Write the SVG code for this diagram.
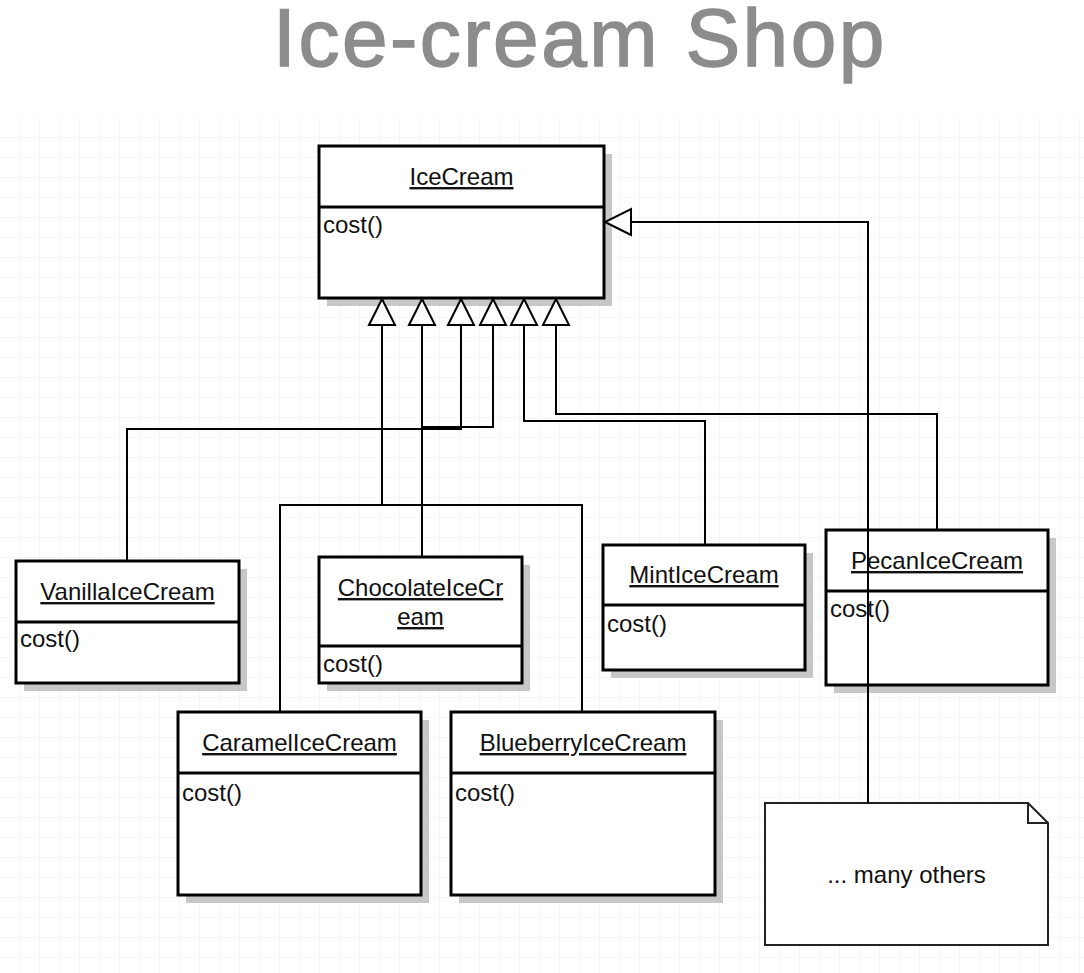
<svg xmlns="http://www.w3.org/2000/svg" width="1084" height="973" viewBox="0 0 1084 973">
<defs>
<pattern id="grid" x="0" y="118" width="20" height="20" patternUnits="userSpaceOnUse">
<path d="M20,0 V20 M0,20 H20" fill="none" stroke="#ececf2" stroke-width="1"/>
</pattern>
<marker id="tri" viewBox="-2 -16 32 32" refX="26" refY="0" markerWidth="32" markerHeight="32" markerUnits="userSpaceOnUse" orient="auto">
<path d="M0,-13 L26,0 L0,13 Z" fill="#fff" stroke="#000" stroke-width="2"/>
</marker>
<style>
.box{fill:#fff;stroke:#000;stroke-width:3}
.sh{fill:#bdbdbd;opacity:0.85}
.div{stroke:#000;stroke-width:3}
.t{font-family:"Liberation Sans",Arial,sans-serif;font-size:24px;fill:#111}
.n{text-anchor:middle;text-decoration:underline}
.c{stroke:#000;stroke-width:2;fill:none}
</style>
</defs>
<rect x="0" y="0" width="1084" height="973" fill="#fff"/>
<rect x="0" y="118" width="1084" height="855" fill="url(#grid)"/>
<text x="580" y="66" font-family="'Liberation Sans',Arial,sans-serif" font-size="82" letter-spacing="2.5" fill="#8c8c8c" stroke="#8c8c8c" stroke-width="1.5" text-anchor="middle">Ice-cream Shop</text>

<g id="IceCream">
<rect class="sh" x="327" y="154" width="285" height="152"/>
<rect class="box" x="319" y="146" width="285" height="152"/>
<line class="div" x1="319" y1="207" x2="604" y2="207"/>
<text class="t n" x="461.5" y="185">IceCream</text>
<text class="t" x="323" y="233">cost()</text>
</g>
<g id="VanillaIceCream">
<rect class="sh" x="24" y="569" width="223" height="122"/>
<rect class="box" x="16" y="561" width="223" height="122"/>
<line class="div" x1="16" y1="622" x2="239" y2="622"/>
<text class="t n" x="127.5" y="600">VanillaIceCream</text>
<text class="t" x="20" y="647">cost()</text>
</g>
<g id="ChocolateIceCream">
<rect class="sh" x="327" y="565" width="203" height="126"/>
<rect class="box" x="319" y="557" width="203" height="126"/>
<line class="div" x1="319" y1="646" x2="522" y2="646"/>
<text class="t n" x="420.5" y="596">ChocolateIceCr</text>
<text class="t n" x="420.5" y="625">eam</text>
<text class="t" x="323" y="672">cost()</text>
</g>
<g id="MintIceCream">
<rect class="sh" x="611" y="553" width="202" height="125"/>
<rect class="box" x="603" y="545" width="202" height="125"/>
<line class="div" x1="603" y1="605" x2="805" y2="605"/>
<text class="t n" x="704" y="583">MintIceCream</text>
<text class="t" x="607" y="632">cost()</text>
</g>
<g id="PecanIceCream">
<rect class="sh" x="834" y="538" width="222" height="155"/>
<rect class="box" x="826" y="530" width="222" height="155"/>
<line class="div" x1="826" y1="591" x2="1048" y2="591"/>
<text class="t n" x="937" y="569">PecanIceCream</text>
<text class="t" x="830" y="617">cost()</text>
</g>
<g id="CaramelIceCream">
<rect class="sh" x="186" y="720" width="243" height="183"/>
<rect class="box" x="178" y="712" width="243" height="183"/>
<line class="div" x1="178" y1="773" x2="421" y2="773"/>
<text class="t n" x="299.5" y="751">CaramelIceCream</text>
<text class="t" x="182" y="801">cost()</text>
</g>
<g id="BlueberryIceCream">
<rect class="sh" x="459" y="720" width="264" height="183"/>
<rect class="box" x="451" y="712" width="264" height="183"/>
<line class="div" x1="451" y1="773" x2="715" y2="773"/>
<text class="t n" x="583" y="751">BlueberryIceCream</text>
<text class="t" x="455" y="801">cost()</text>
</g>
<g id="note">
<path d="M765,803 H1028 L1048,823 V945 H765 Z" fill="#fff" stroke="#222" stroke-width="2"/>
<path d="M1028,803 V823 H1048" fill="none" stroke="#222" stroke-width="2"/>
<text class="t" x="906.5" y="883" text-anchor="middle">... many others</text>
</g>

<g id="connectors">
<path class="c" d="M582,712 V505 H382 V299" marker-end="url(#tri)"/>
<path class="c" d="M280,712 V505 H422 V427 H493 V299" marker-end="url(#tri)"/>
<path class="c" d="M422,557 V299" marker-end="url(#tri)"/>
<path class="c" d="M127,561 V429 H461 V299" marker-end="url(#tri)"/>
<path class="c" d="M705,545 V421 H524 V299" marker-end="url(#tri)"/>
<path class="c" d="M937,530 V414 H556 V299" marker-end="url(#tri)"/>
<path class="c" d="M868,803 V222 H605" marker-end="url(#tri)"/>
</g>
</svg>
